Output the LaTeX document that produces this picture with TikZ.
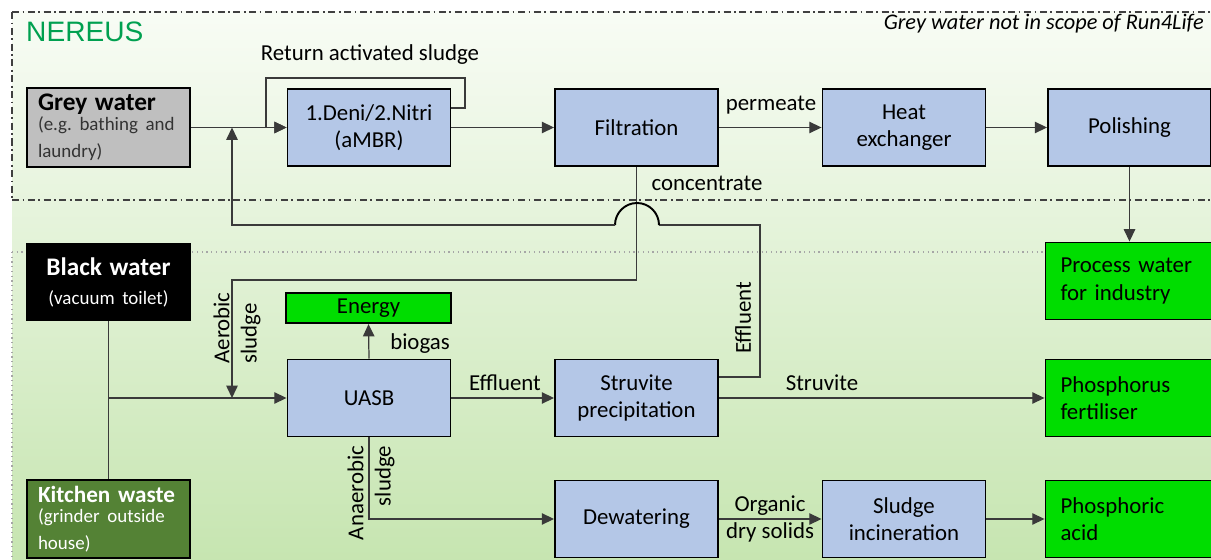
\documentclass[tikz,border=0pt]{standalone}
\usepackage{fontspec}
\setmainfont{Carlito}
\newfontfamily\nereusfont{Liberation Sans}
\usetikzlibrary{arrows.meta,calc}
\definecolor{procblue}{HTML}{B4C7E7}
\definecolor{inputgrey}{HTML}{BFBFBF}
\definecolor{prodgreen}{HTML}{00DD00}
\definecolor{kitchgreen}{HTML}{548235}
\definecolor{nereusgreen}{HTML}{00A050}
\definecolor{linegrey}{HTML}{3A3A3A}
\definecolor{bgtop}{HTML}{F8FCF5}
\definecolor{bgbottom}{HTML}{C6E5B0}
\frenchspacing
\begin{document}
\begin{tikzpicture}[x=0.02cm,y=-0.02cm,
        box/.style={draw=black,line width=1.1pt,fill=procblue,minimum width=3.26cm,
            minimum height=1.54cm,align=center,font=\fontsize{13}{15.5}\selectfont},
        outbox/.style={box,fill=prodgreen,text width=2.76cm,inner xsep=0.3cm,align=left},
        inbox/.style={box,text width=2.82cm,inner xsep=0.22cm},
        flow/.style={draw=linegrey,line width=0.7pt,-{Triangle[length=7pt,width=6.5pt]}},
        link/.style={draw=linegrey,line width=0.7pt},
        lbl/.style={font=\fontsize{13}{15.5}\selectfont},
        border/.style={draw=black!75,line width=0.8pt,dash pattern=on 4pt off 2pt on 1pt off 2pt}
    ]
    \clip (0,0) rectangle (1211,560);
    \shade[top color=bgtop,bottom color=bgbottom] (12,12) rectangle (1215,564);

    % scope borders
    \draw[border] (12,12) -- (1215,12);
    \draw[border] (12,12) -- (12,200);
    \draw[border,line width=1.1pt] (12,200) -- (1215,200);
    \draw[gray!70,dotted,line width=0.7pt] (12,252) -- (1215,252);
    \draw[gray!70,dotted,line width=0.7pt] (12,252) -- (12,560);

    \node[font=\nereusfont\fontsize{16}{19}\selectfont,text=nereusgreen,anchor=west] (title) at (20,32) {NEREUS};
    \node[font=\itshape\fontsize{12.7}{15}\selectfont,anchor=east] (outscope) at (1210,24) {Grey water not in scope of Run4Life};

    % inputs
    \node[inbox,fill=inputgrey,align=left] (grey) at (108.5,127.5)
        {{\bfseries\fontsize{14.4}{17}\selectfont Grey water}\\[-1pt]{\color{black!80}\fontsize{10.8}{12.5}\selectfont (e.g. bathing and\\laundry)}};
    \node[inbox,fill=black,text=white] (black) at (108.5,282)
        {{\bfseries\fontsize{14.4}{17}\selectfont Black water}\\[1pt]{\fontsize{10.8}{12.5}\selectfont (vacuum toilet)}};
    \node[inbox,fill=kitchgreen,text=white,align=left] (kitchen) at (108.5,519)
        {{\bfseries\fontsize{13.2}{16}\selectfont Kitchen waste}\\[-1pt]{\fontsize{10.8}{12.5}\selectfont (grinder outside\\house)}};

    % processes
    \node[box] (deni) at (369,127.5) {1.Deni/2.Nitri\\(aMBR)};
    \node[box] (filt) at (636.5,127.5) {Filtration};
    \node[box] (heat) at (904,127.5) {Heat\\exchanger};
    \node[box] (pol) at (1129.5,127.5) {Polishing};
    \node[box,fill=prodgreen,minimum height=0.6cm,minimum width=3.3cm] (energy) at (368.5,308) {Energy};
    \node[box] (uasb) at (369,398) {UASB};
    \node[box] (struv) at (636.5,398) {Struvite\\precipitation};
    \node[box] (dewat) at (636.5,519) {Dewatering};
    \node[box] (sludge) at (904,519) {Sludge\\incineration};

    % products
    \node[outbox] (proc) at (1129.5,281) {Process water\\for industry};
    \node[outbox] (phos) at (1129.5,398) {Phosphorus\\fertiliser};
    \node[outbox] (acid) at (1129.5,519) {Phosphoric\\acid};

    % main flows
    \foreach \From/\To in {grey/deni, deni/filt, filt/heat, heat/pol, uasb/struv, struv/phos, dewat/sludge, sludge/acid}{
        \draw[flow] (\From.east) -- (\To.west);
    }
    \draw[flow] (pol.south) -- (proc.north);
    \draw[flow] (uasb.north) -- (energy.south);
    \draw[flow] (uasb.south) |- (dewat.west);
    \draw[link] (black.south) -- (kitchen.north);
    \draw[flow] (black.south |- uasb.west) -- (uasb.west);

    % return activated sludge
    \coordinate (rasS) at (465,108);
    \coordinate (rasR) at (465,78);
    \coordinate (rasL) at (266,78);
    \draw[flow] (deni.east |- rasS) -- (rasS) -- (rasR) -- (rasL) |- (deni.west);

    % concentrate to UASB
    \coordinate (aerT) at (232,280);
    \coordinate (aerJ) at (232,398);
    \draw[flow] (filt.south) |- (aerT) -- (aerJ);

    % struvite effluent back to grey water line
    \coordinate (effS) at (760,377);
    \coordinate (effT) at (760,225);
    \coordinate (hopR) at (659,225);
    \coordinate (hopL) at (615,225);
    \coordinate (effL) at (232,225);
    \coordinate (effJ) at (232,127.5);
    \draw[link] (struv.east |- effS) -- (effS) -- (effT) -- (hopR);
    \draw[black,line width=1.1pt] (hopR) arc[start angle=0,end angle=180,radius=0.44cm];
    \draw[flow] (hopL) -- (effL) -- (effJ);

    % labels
    \node[lbl] (lblras) at (370,55) {Return activated sludge};
    \node[lbl] (lblperm) at (771,105) {permeate};
    \node[lbl] (lblconc) at (707,183) {concentrate};
    \node[lbl,rotate=90,align=left] (lblaer) at (237,328) {Aerobic\\sludge};
    \node[lbl] (lblbio) at (420,344) {biogas};
    \node[lbl] (lbleff) at (505,383) {Effluent};
    \node[lbl,rotate=90] (lbleffup) at (743,318) {Effluent};
    \node[lbl] (lblstr) at (822,383) {Struvite};
    \node[lbl,rotate=90,align=right] (lblana) at (371,493) {Anaerobic\\sludge};
    \node[lbl] (lblorg) at (770,506) {Organic};
    \node[lbl] (lbldry) at (770,532) {dry solids};
\end{tikzpicture}
\end{document}
